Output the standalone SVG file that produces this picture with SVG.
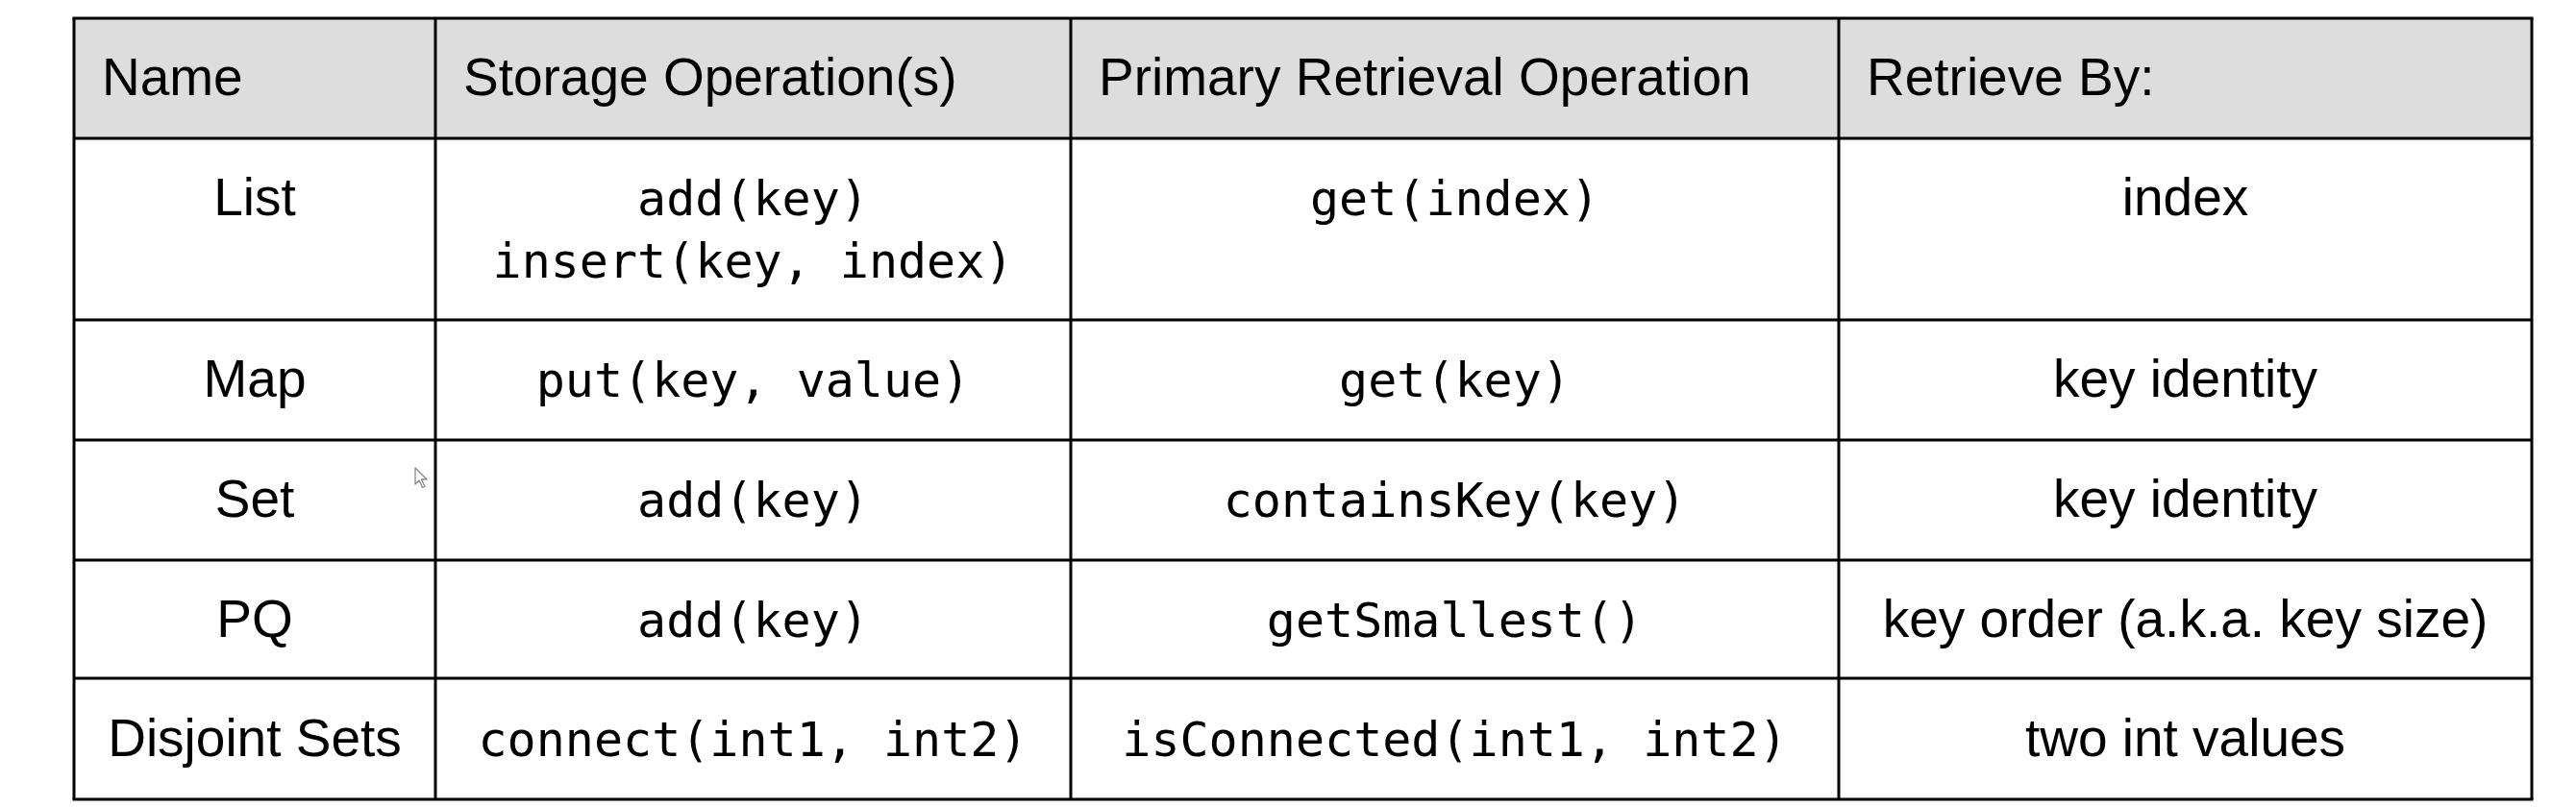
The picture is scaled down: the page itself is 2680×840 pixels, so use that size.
<svg xmlns="http://www.w3.org/2000/svg" width="2680" height="840" viewBox="0 0 2680 840">
<style>
.hd{font-family:"Liberation Sans",Arial,sans-serif;font-size:55px;fill:#000}
.sn{font-family:"Liberation Sans",Arial,sans-serif;font-size:55px;fill:#000;text-anchor:middle}
.mo{font-family:"DejaVu Sans Mono","Liberation Mono",monospace;font-size:50px;fill:#000;text-anchor:middle}
.grid line{stroke:#000;stroke-width:3}
</style>
<rect x="0" y="0" width="2680" height="840" fill="#ffffff"/>
<rect id="header-bg" x="77" y="19" width="2557" height="125" fill="#dddddd"/>
<g id="header">
<text class="hd" x="106" y="99">Name</text>
<text class="hd" x="482" y="99">Storage Operation(s)</text>
<text class="hd" x="1143" y="99">Primary Retrieval Operation</text>
<text class="hd" x="1942" y="99">Retrieve By:</text>
</g>
<g id="row-list">
<text class="sn" x="265" y="224">List</text>
<text class="mo" x="783.5" y="224">add(key)</text>
<text class="mo" x="783.5" y="289">insert(key, index)</text>
<text class="mo" x="1513.5" y="224">get(index)</text>
<text class="sn" x="2273.5" y="224">index</text>
</g>
<g id="row-map">
<text class="sn" x="265" y="413">Map</text>
<text class="mo" x="783.5" y="413">put(key, value)</text>
<text class="mo" x="1513.5" y="413">get(key)</text>
<text class="sn" x="2273.5" y="413">key identity</text>
</g>
<g id="row-set">
<text class="sn" x="265" y="538">Set</text>
<text class="mo" x="783.5" y="538">add(key)</text>
<text class="mo" x="1513.5" y="538">containsKey(key)</text>
<text class="sn" x="2273.5" y="538">key identity</text>
</g>
<g id="row-pq">
<text class="sn" x="265" y="663">PQ</text>
<text class="mo" x="783.5" y="663">add(key)</text>
<text class="mo" x="1513.5" y="663">getSmallest()</text>
<text class="sn" x="2273.5" y="663">key order (a.k.a. key size)</text>
</g>
<g id="row-disjoint">
<text class="sn" x="265" y="787">Disjoint Sets</text>
<text class="mo" x="783.5" y="787">connect(int1, int2)</text>
<text class="mo" x="1513.5" y="787">isConnected(int1, int2)</text>
<text class="sn" x="2273.5" y="787">two int values</text>
</g>
<g id="grid" class="grid">
<line x1="75.5" y1="19" x2="2635.5" y2="19"/>
<line x1="77" y1="144" x2="2634" y2="144"/>
<line x1="77" y1="333" x2="2634" y2="333"/>
<line x1="77" y1="458" x2="2634" y2="458"/>
<line x1="77" y1="583" x2="2634" y2="583"/>
<line x1="77" y1="706" x2="2634" y2="706"/>
<line x1="75.5" y1="832" x2="2635.5" y2="832"/>
<line x1="77" y1="19" x2="77" y2="832"/>
<line x1="453" y1="19" x2="453" y2="832"/>
<line x1="1114" y1="19" x2="1114" y2="832"/>
<line x1="1913" y1="19" x2="1913" y2="832"/>
<line x1="2634" y1="19" x2="2634" y2="832"/>
</g>
<g id="cursor">
<path d="M432 487 L432 504 L436 500 L439.5 507.5 L442 506.5 L438.5 499 L444 499 Z" fill="#ffffff" stroke="#8a8a8a" stroke-width="1.3" stroke-linejoin="round"/>
</g>
</svg>
